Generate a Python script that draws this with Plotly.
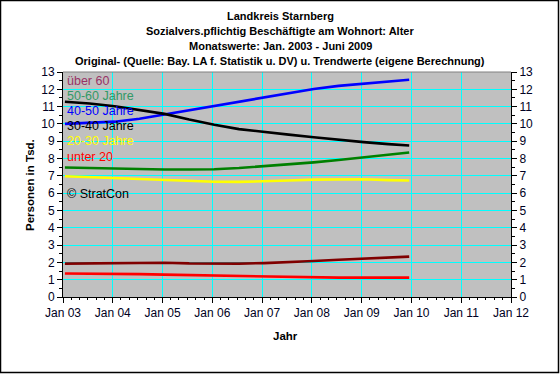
import plotly.graph_objects as go

dates = ["2003-01-15", "2003-07-15", "2004-01-15", "2004-07-15", "2005-01-15", "2005-07-15",
         "2006-01-15", "2006-07-15", "2007-01-15", "2007-07-15", "2008-01-15", "2008-07-15",
         "2009-01-15", "2009-07-15", "2009-12-15"]

ueber60 = [1.93, 1.94, 1.98, 2.00, 1.98, 1.94, 1.93, 1.93, 1.96, 2.00, 2.08, 2.15, 2.21, 2.28, 2.33]
j50_60 = [7.48, 7.45, 7.42, 7.38, 7.37, 7.37, 7.38, 7.45, 7.55, 7.65, 7.78, 7.92, 8.07, 8.22, 8.35]
j40_50 = [10.0, 10.05, 10.13, 10.3, 10.55, 10.8, 11.06, 11.3, 11.55, 11.8, 12.02, 12.2, 12.33, 12.47, 12.55]
j30_40 = [11.28, 11.18, 11.02, 10.8, 10.58, 10.25, 9.95, 9.7, 9.52, 9.38, 9.23, 9.08, 8.95, 8.83, 8.75]
j20_30 = [6.98, 6.93, 6.88, 6.8, 6.75, 6.7, 6.66, 6.65, 6.67, 6.73, 6.78, 6.8, 6.8, 6.75, 6.73]
unter20 = [1.36, 1.36, 1.35, 1.32, 1.29, 1.26, 1.24, 1.21, 1.18, 1.14, 1.13, 1.12, 1.12, 1.12, 1.12]

series = [
    ("über 60", ueber60, "#800000", "#993366"),
    ("50-60 Jahre", j50_60, "#008000", "#339966"),
    ("40-50 Jahre", j40_50, "#0000FF", "#0000FF"),
    ("30-40 Jahre", j30_40, "#000000", "#000000"),
    ("20-30 Jahre", j20_30, "#FFFF00", "#FFFF00"),
    ("unter 20", unter20, "#FF0000", "#FF0000"),
]

FONT = "Liberation Sans, Arial, sans-serif"

fig = go.Figure()
for name, vals, col, _ in series:
    fig.add_trace(go.Scatter(x=dates, y=vals, mode="lines", name=name,
                             line=dict(color=col, width=2.6), showlegend=False))
# invisible trace for right axis
fig.add_trace(go.Scatter(x=[dates[0]], y=[0], yaxis="y2", mode="markers",
                         marker=dict(opacity=0), showlegend=False, hoverinfo="skip"))

L, R, T, B = 63, 49, 72, 77
W, H = 560, 374
pw, ph = W - L - R, H - T - B

def px(x):
    return (x - L) / pw

def py(y):
    return (H - B - y) / ph

ann = []
titles = ["Landkreis Starnberg",
          "Sozialvers.pflichtig Beschäftigte am Wohnort: Alter",
          "Monatswerte: Jan. 2003 - Juni 2009",
          "Original- (Quelle: Bay. LA f. Statistik u. DV) u. Trendwerte (eigene Berechnung)"]
for i, t in enumerate(titles):
    ann.append(dict(text="<b>%s</b>" % t, x=px(280), y=py(15.5 + i * 15.3), xref="paper", yref="paper",
                    showarrow=False, xanchor="center", yanchor="middle",
                    font=dict(family=FONT, size=11, color="#000000")))
for i, (name, _, _, tcol) in enumerate(series):
    ann.append(dict(text=name, x=px(65), y=py(81 + i * 15.1), xref="paper", yref="paper",
                    showarrow=False, xanchor="left", yanchor="middle",
                    font=dict(family=FONT, size=12.5, color=tcol)))
ann.append(dict(text="© StratCon", x=px(65), y=py(194), xref="paper", yref="paper",
                showarrow=False, xanchor="left", yanchor="middle",
                font=dict(family=FONT, size=12.5, color="#000000")))
ann.append(dict(text="<b>Jahr</b>", x=px(285), y=py(336), xref="paper", yref="paper",
                showarrow=False, xanchor="center", yanchor="middle",
                font=dict(family=FONT, size=11.5, color="#000000")))
ann.append(dict(text="<b>Personen in Tsd.</b>", x=px(30), y=py(185), xref="paper", yref="paper",
                showarrow=False, xanchor="center", yanchor="middle", textangle=-90,
                font=dict(family=FONT, size=11.5, color="#000000")))

shapes = [dict(type="rect", xref="paper", yref="paper",
               x0=px(0.5), x1=px(558.5), y0=py(372.5), y1=py(0.5),
               line=dict(color="#000000", width=1.5), layer="above"),
          dict(type="line", xref="paper", yref="paper", x0=0, x1=1, y0=1, y1=1,
               line=dict(color="#808080", width=1), layer="above")]

tickfont = dict(family=FONT, size=12, color="#000022")
yax = dict(range=[0, 13], dtick=1, tick0=0, showgrid=True, gridcolor="#00FFFF", gridwidth=1,
           zeroline=False, showline=True, linecolor="#000000", linewidth=1,
           ticks="outside", ticklen=5, tickcolor="#000000", tickfont=tickfont,
           minor=dict(dtick=0.5, ticks="outside", ticklen=3, tickcolor="#000000", showgrid=False))

fig.update_layout(
    width=W, height=H,
    margin=dict(l=L, r=R, t=T, b=B, pad=0),
    paper_bgcolor="#FFFFFF", plot_bgcolor="#C0C0C0",
    xaxis=dict(type="date", range=["2003-01-01", "2012-01-01"], dtick="M12", tick0="2003-01-01",
               tickformat="%b %y", showgrid=True, gridcolor="#00FFFF", gridwidth=1,
               zeroline=False, showline=True, linecolor="#000000", linewidth=1,
               ticks="outside", ticklen=5, tickcolor="#000000", tickfont=tickfont,
               minor=dict(dtick="M2", ticks="outside", ticklen=2, tickcolor="#000000", showgrid=False)),
    yaxis=yax,
    yaxis2=dict(yax, overlaying="y", side="right", showgrid=False),
    annotations=ann, shapes=shapes,
    showlegend=False,
)

fig.write_html("out.html", config={"displayModeBar": False},
               post_script="document.body.style.margin='0';document.body.style.overflow='hidden';")
